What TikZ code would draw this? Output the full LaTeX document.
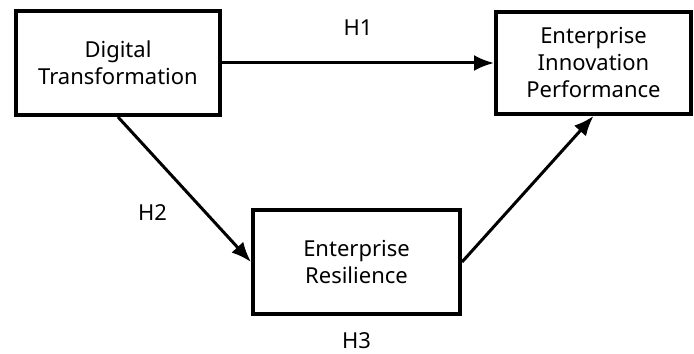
\documentclass[tikz,border=0pt]{standalone}
\usepackage{fontspec}
\setmainfont{Noto Sans}
\usepackage{tikz}
\usetikzlibrary{positioning,arrows.meta}
\tikzstyle{construct} = [rectangle, draw, line width=2pt, text centered, align=center, minimum height=52pt, font=\fontsize{11}{13.5}\selectfont]
\tikzstyle{hypothesis} = [inner sep=0pt, font=\fontsize{11}{13.5}\selectfont]
\tikzstyle{connector} = [line width=1.5pt, -{Latex[length=10pt,width=8pt]}]

\begin{document}
\begin{tikzpicture}[x=0.5pt, y=-0.5pt]
            \useasboundingbox (0,0) rectangle (694,353);
            \node (digital) [construct, minimum width=102pt] at (118,63) {Digital\\Transformation};
            \node (innovation) [construct, minimum width=97.5pt, minimum height=51pt, right=136pt of digital] {Enterprise\\Innovation\\Performance};
            \node (resilience) [construct, minimum width=103.5pt, below right=45.5pt and 14.5pt of digital] {Enterprise\\Resilience};
            \node (h3) [hypothesis, below=8pt of resilience] {H3};
            \draw [connector] (digital) -- node[hypothesis, midway, above=13pt] (h1) {H1} (innovation);
            \draw [connector] (digital.south) -- node[hypothesis, midway, xshift=-16pt, yshift=-11.5pt] (h2) {H2} (resilience.west);
            \draw [connector] (resilience.east) -- (innovation.south);
        \end{tikzpicture}
\end{document}
